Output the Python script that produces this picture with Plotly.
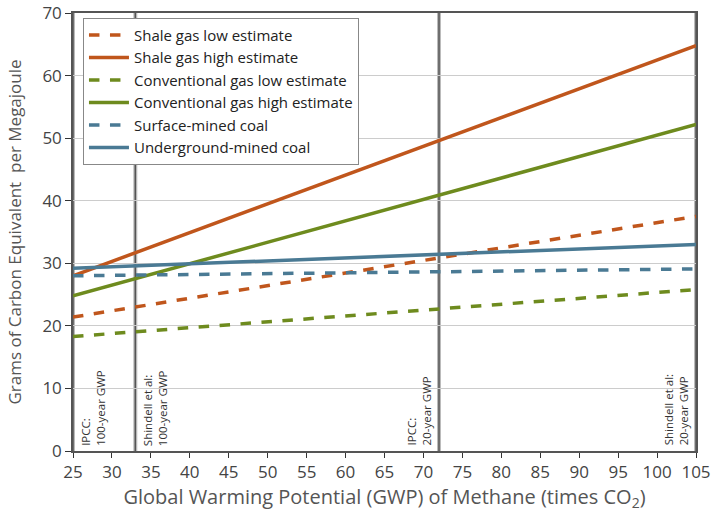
import plotly.graph_objects as go

gwp = [25, 105]
shale_low = [21.4, 37.5]
shale_high = [28.0, 64.8]
conv_low = [18.3, 25.8]
conv_high = [24.8, 52.2]
coal_surface = [28.0, 29.1]
coal_under = [29.2, 33.0]

series = [
    ("Shale gas low estimate", shale_low, "#C0561C", "dash"),
    ("Shale gas high estimate", shale_high, "#C0561C", "solid"),
    ("Conventional gas low estimate", conv_low, "#6E8B1E", "dash"),
    ("Conventional gas high estimate", conv_high, "#6E8B1E", "solid"),
    ("Surface-mined coal", coal_surface, "#4A7A94", "dash"),
    ("Underground-mined coal", coal_under, "#4A7A94", "solid"),
]

ref_x = [25, 33, 72, 105]
ref_labels = ["IPCC:<br>100-year GWP", "Shindell et al:<br>100-year GWP",
              "IPCC:<br>20-year GWP", "Shindell et al:<br>20-year GWP"]
ref_side = ["right", "right", "left", "left"]

fig = go.Figure()
for name, ys, col, dash in series:
    fig.add_trace(go.Scatter(x=gwp, y=ys, mode="lines", name=name,
                             line=dict(color=col, width=3.5, dash=dash)))

for xv, lab, side in zip(ref_x, ref_labels, ref_side):
    fig.add_shape(type="line", x0=xv, x1=xv, y0=0, y1=70, xref="x", yref="y",
                  line=dict(color="#BBBBBB", width=4), layer="below")
    fig.add_shape(type="line", x0=xv, x1=xv, y0=0, y1=70, xref="x", yref="y",
                  line=dict(color="#555555", width=1.5), layer="below")
    fig.add_annotation(x=xv, y=0.5, xref="x", yref="y", text=lab, showarrow=False,
                       textangle=-90, xanchor="left" if side == "right" else "right",
                       yanchor="bottom", xshift=3 if side == "right" else -3,
                       align="left", font=dict(size=11.5, color="#333333", family="Open Sans"))

fig.update_layout(
    width=711, height=516,
    margin=dict(l=73, r=15, t=13, b=65, autoexpand=False),
    paper_bgcolor="white", plot_bgcolor="white",
    font=dict(family="Open Sans", color="#444444"),
    legend=dict(x=0.016, y=0.989, xanchor="left", yanchor="top",
                bgcolor="white", bordercolor="#888888", borderwidth=1,
                font=dict(size=15, color="#222222"), tracegroupgap=0,
                itemwidth=40),
    xaxis=dict(range=[25, 105], tickmode="array", tickvals=list(range(25, 106, 5)),
               showgrid=False, ticks="outside", ticklen=5, tickcolor="#333333",
               showline=True, linecolor="#555555", linewidth=1.5, mirror=True,
               tickfont=dict(size=17, color="#444444"),
               title=dict(text="Global Warming Potential (GWP) of Methane (times CO<sub>2</sub>)",
                          font=dict(size=20, color="#555555"), standoff=8),
               zeroline=False, automargin=False),
    yaxis=dict(range=[0, 70], tickvals=list(range(0, 71, 10)),
               showgrid=True, gridcolor="#CCCCCC", gridwidth=1,
               ticks="outside", ticklen=6, tickcolor="#333333",
               showline=True, linecolor="#555555", linewidth=1.5, mirror=True,
               tickfont=dict(size=17, color="#444444"),
               title=dict(text="Grams of Carbon Equivalent  per Megajoule",
                          font=dict(size=17, color="#555555"), standoff=16),
               zeroline=False, automargin=False),
)

fig.write_html("out.html", config={"displayModeBar": False},
               post_script="document.body.style.margin='0px';")
